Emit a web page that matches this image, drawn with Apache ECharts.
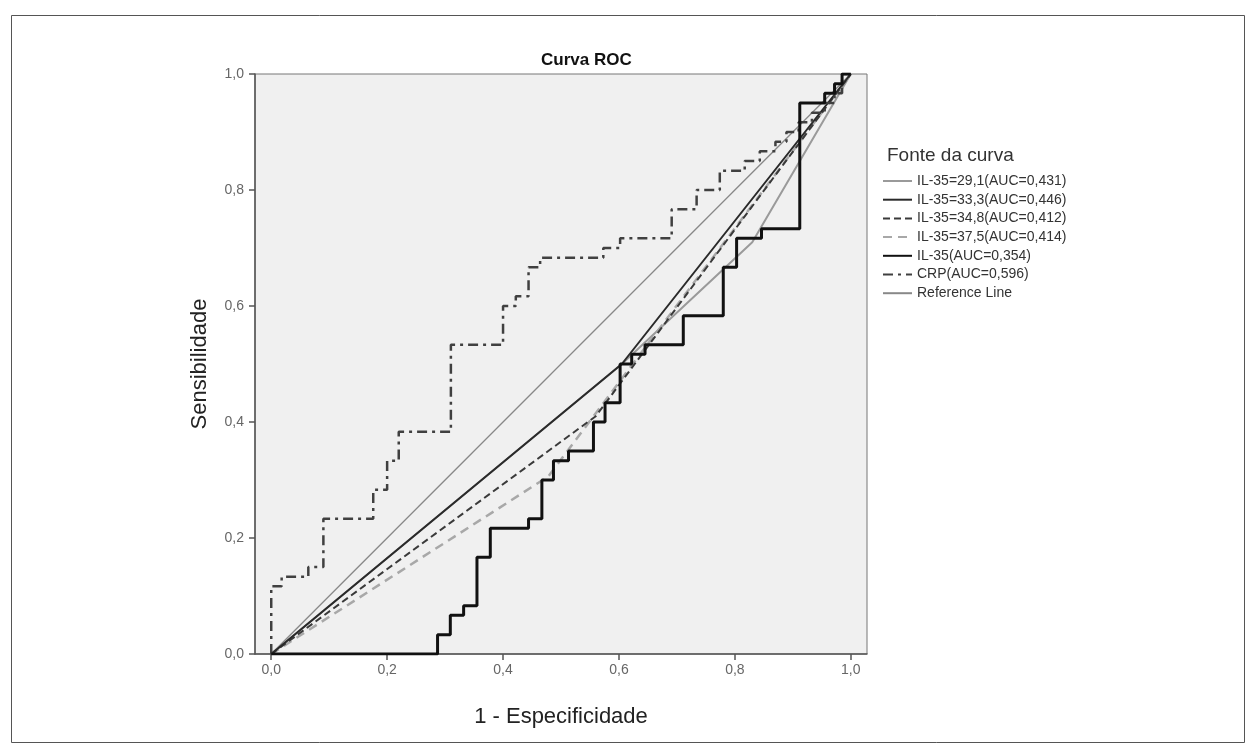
<!DOCTYPE html>
<html>
<head>
<meta charset="utf-8">
<script src="https://cdn.jsdelivr.net/npm/echarts@6/dist/echarts.min.js"></script>
<style>
html,body{margin:0;padding:0;background:#fff;}
#chart{width:1251px;height:749px;}
</style>
</head>
<body>
<div id="chart"></div>
<script>
// ---- Data ----
const tickValues = [0, 0.2, 0.4, 0.6, 0.8, 1.0];
const seriesNames = [
  'IL-35=29,1(AUC=0,431)',
  'IL-35=33,3(AUC=0,446)',
  'IL-35=34,8(AUC=0,412)',
  'IL-35=37,5(AUC=0,414)',
  'IL-35(AUC=0,354)',
  'CRP(AUC=0,596)',
  'Reference Line'
];
// IL-35 cut-off curves (1 - specificity, sensitivity)
const il291Fpr = [0, 0.605, 0.83, 1];
const il291Tpr = [0, 0.50, 0.71, 1];
const il333Fpr = [0, 0.605, 1];
const il333Tpr = [0, 0.50, 1];
const il348Fpr = [0, 0.56, 1];
const il348Tpr = [0, 0.41, 1];
const il375Fpr = [0, 0.478, 1];
const il375Tpr = [0, 0.306, 1];
// IL-35 continuous
const il35Fpr = [0, 0.287, 0.287, 0.309, 0.309, 0.332, 0.332, 0.355, 0.355, 0.378, 0.378, 0.444, 0.444, 0.467, 0.467, 0.487, 0.487, 0.513, 0.513, 0.556, 0.556, 0.576, 0.576, 0.602, 0.602, 0.622, 0.622, 0.645, 0.645, 0.711, 0.711, 0.780, 0.780, 0.803, 0.803, 0.846, 0.846, 0.912, 0.912, 0.955, 0.955, 0.972, 0.972, 0.985, 0.985, 1];
const il35Tpr = [0, 0, 0.033, 0.033, 0.067, 0.067, 0.083, 0.083, 0.167, 0.167, 0.217, 0.217, 0.233, 0.233, 0.300, 0.300, 0.333, 0.333, 0.350, 0.350, 0.400, 0.400, 0.433, 0.433, 0.500, 0.500, 0.517, 0.517, 0.533, 0.533, 0.583, 0.583, 0.667, 0.667, 0.717, 0.717, 0.733, 0.733, 0.950, 0.950, 0.967, 0.967, 0.983, 0.983, 1, 1];
// CRP
const crpFpr = [0, 0, 0.018, 0.018, 0.064, 0.064, 0.090, 0.090, 0.176, 0.176, 0.200, 0.200, 0.220, 0.220, 0.310, 0.310, 0.400, 0.400, 0.422, 0.422, 0.444, 0.444, 0.464, 0.464, 0.573, 0.573, 0.602, 0.602, 0.691, 0.691, 0.734, 0.734, 0.774, 0.774, 0.817, 0.817, 0.843, 0.843, 0.870, 0.870, 0.889, 0.889, 0.910, 0.910, 0.933, 0.933, 0.955, 0.955, 0.972, 0.972, 0.985, 0.985, 1];
const crpTpr = [0, 0.117, 0.117, 0.133, 0.133, 0.150, 0.150, 0.233, 0.233, 0.283, 0.283, 0.333, 0.333, 0.383, 0.383, 0.533, 0.533, 0.600, 0.600, 0.617, 0.617, 0.667, 0.667, 0.683, 0.683, 0.700, 0.700, 0.717, 0.717, 0.767, 0.767, 0.800, 0.800, 0.833, 0.833, 0.850, 0.850, 0.867, 0.867, 0.883, 0.883, 0.900, 0.900, 0.917, 0.917, 0.933, 0.933, 0.950, 0.950, 0.967, 0.967, 1, 1];
const refFpr = [0, 1];
const refTpr = [0, 1];

function pts(xs, ys) { return xs.map((x, i) => [x, ys[i]]); }
const FONT = '"Liberation Sans", Arial, sans-serif';
const fmt = v => v.toFixed(1).replace('.', ',');

function lineSeries(name, xs, ys, color, width, type, z) {
  return {
    name: name, type: 'line', data: pts(xs, ys),
    showSymbol: false, symbol: 'none', animation: false, z: z,
    lineStyle: { color: color, width: width, type: type },
    itemStyle: { color: color }
  };
}

const chart = echarts.init(document.getElementById('chart'), null, { renderer: 'canvas' });
chart.setOption({
  animation: false,
  backgroundColor: '#ffffff',
  title: [
    { text: 'Curva ROC', left: 536, top: 47,
      textStyle: { fontFamily: FONT, fontSize: 17, fontWeight: 'bold', color: '#111' } },
    { text: 'Fonte da curva', left: 882, top: 141,
      textStyle: { fontFamily: FONT, fontSize: 19, fontWeight: 'normal', color: '#333' } }
  ],
  graphic: [
    { type: 'rect', left: 9, top: 13, z: -10, silent: true,
      shape: { width: 1233, height: 727 },
      style: { fill: 'none', stroke: '#555', lineWidth: 1 } }
  ],
  grid: {
    left: 255, right: 384, top: 74, bottom: 95,
    show: true, backgroundColor: '#f0f0f0', borderColor: '#777', borderWidth: 1
  },
  legend: {
    orient: 'vertical', left: 877, top: 169,
    itemWidth: 29, itemHeight: 10, itemGap: 4.7,
    data: seriesNames,
    itemStyle: { opacity: 0, borderWidth: 0 },
    textStyle: { fontFamily: FONT, fontSize: 14, color: '#333', lineHeight: 14 },
    inactiveColor: '#ccc'
  },
  xAxis: {
    type: 'value', min: -0.028, max: 1.028,
    name: '1 - Especificidade', nameLocation: 'middle', nameGap: 52,
    nameTextStyle: { fontFamily: FONT, fontSize: 22, color: '#222' },
    splitLine: { show: false },
    axisLine: { show: true, onZero: false, lineStyle: { color: '#555', width: 1.5 } },
    axisTick: { show: true, customValues: tickValues, length: 6, lineStyle: { color: '#555', width: 1.5 } },
    axisLabel: { customValues: tickValues, formatter: fmt, margin: 9,
      fontFamily: FONT, fontSize: 14, color: '#666' }
  },
  yAxis: {
    type: 'value', min: 0, max: 1, interval: 0.2,
    name: 'Sensibilidade', nameLocation: 'middle', nameGap: 44,
    nameTextStyle: { fontFamily: FONT, fontSize: 22, color: '#222' },
    splitLine: { show: false },
    axisLine: { show: true, onZero: false, lineStyle: { color: '#555', width: 1.5 } },
    axisTick: { show: true, length: 6, lineStyle: { color: '#555', width: 1.5 } },
    axisLabel: { formatter: fmt, margin: 11, fontFamily: FONT, fontSize: 14, color: '#666' }
  },
  series: [
    lineSeries(seriesNames[6], refFpr, refTpr, '#888888', 1.3, 'solid', 2),
    lineSeries(seriesNames[0], il291Fpr, il291Tpr, '#9a9a9a', 2, 'solid', 3),
    lineSeries(seriesNames[3], il375Fpr, il375Tpr, '#a8a8a8', 2.5, [9, 6], 3),
    lineSeries(seriesNames[2], il348Fpr, il348Tpr, '#3a3a3a', 2, [7, 4], 4),
    lineSeries(seriesNames[1], il333Fpr, il333Tpr, '#2a2a2a', 2, 'solid', 5),
    lineSeries(seriesNames[5], crpFpr, crpTpr, '#404040', 2.5, [10, 5, 3, 5], 5),
    lineSeries(seriesNames[4], il35Fpr, il35Tpr, '#111111', 3, 'solid', 6)
  ]
});
</script>
</body>
</html>
